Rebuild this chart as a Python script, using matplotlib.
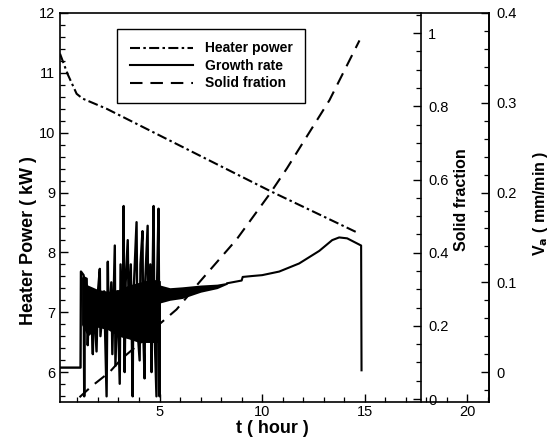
import matplotlib
matplotlib.use("Agg")
import matplotlib.pyplot as plt
from matplotlib.lines import Line2D
from matplotlib.ticker import MultipleLocator, FixedLocator, FuncFormatter

plt.rcParams['font.family'] = ['Liberation Sans', 'DejaVu Sans']

# ---------------- data ----------------
# heater power (kW) vs time (hour)
heater_t = [0.15, 0.52, 0.96, 1.25, 2.42, 10.36, 14.7]
heater_p = [11.32, 10.98, 10.65, 10.57, 10.4, 9.03, 8.32]

# solid fraction vs time
sf_t = [1.1, 1.69, 2.57, 3.15, 4.2, 5.0, 5.83, 6.95, 8.75, 10.36, 11.2, 12.2, 13.28, 14.74]
sf_v = [0.005, 0.035, 0.074, 0.11, 0.16, 0.205, 0.245, 0.32, 0.436, 0.56, 0.63, 0.72, 0.817, 0.98]

# growth rate (mm/min): flat start + spiky unstable part up to t = 5 h
noise_t = [0.15, 1.15, 1.17, 1.3, 1.33, 1.36, 1.45, 1.5, 1.55, 1.7, 1.75, 1.8, 1.93, 2.0,
           2.09, 2.12, 2.3, 2.42, 2.45, 2.48, 2.52, 2.65, 2.7, 2.82, 2.85, 2.95, 3.06,
           3.1, 3.2, 3.25, 3.28, 3.3, 3.35, 3.45, 3.5, 3.6, 3.69, 3.72, 3.88, 3.92,
           4.03, 4.07, 4.17, 4.2, 4.27, 4.3, 4.42, 4.45, 4.55, 4.61, 4.65, 4.71, 4.75,
           4.85, 4.88, 4.95, 4.98, 5.0, 5.0]
noise_v = [0.005, 0.005, 0.112, 0.108, -0.027, 0.105, 0.104, 0.03, 0.07, 0.05, 0.02, 0.08,
           0.023, 0.09, 0.115, 0.04, 0.09, -0.027, 0.06, 0.123, 0.05, 0.1, 0.02, 0.141,
           0.007, 0.09, -0.013, 0.12, 0.04, 0.185, 0.05, 0.0, 0.1, 0.147, 0.06, 0.12,
           -0.027, 0.08, 0.167, 0.05, 0.013, 0.12, 0.157, 0.05, -0.007, 0.1, 0.163, 0.04,
           0.12, 0.0, 0.09, 0.185, 0.05, -0.027, 0.1, 0.182, 0.06, -0.027, 0.1]

# dense oscillation band of the growth rate (envelope)
band_t = [1.2, 1.5, 2.0, 2.5, 3.0, 3.5, 4.0, 4.5, 4.98, 5.02, 5.5, 6.1, 7.0, 7.8, 8.3]
band_lo = [0.053, 0.04, 0.05, 0.047, 0.04, 0.037, 0.033, 0.033, 0.033, 0.077, 0.08,
           0.082, 0.089, 0.093, 0.098]
band_hi = [0.107, 0.097, 0.092, 0.09, 0.092, 0.097, 0.1, 0.103, 0.103, 0.097, 0.094,
           0.095, 0.097, 0.098, 0.1]

# smooth growth rate after t = 8.3 h
gr_t = [8.3, 9.0, 9.05, 9.5, 10.0, 10.83, 11.8, 12.78, 13.41, 13.75, 14.14, 14.82, 14.84]
gr_v = [0.099, 0.102, 0.106, 0.107, 0.108, 0.112, 0.121, 0.135, 0.147, 0.15, 0.149,
        0.141, 0.002]

# ---------------- figure ----------------
fig = plt.figure(figsize=(5.49, 4.44), dpi=100)
ax = fig.add_axes([60 / 549, 42 / 444, 429 / 549, 389 / 444])
ax2 = ax.twinx()
ax3 = ax.twinx()

dashdot = (0, (4.8, 1.6, 1.2, 1.6))
dashed = (0, (6.0, 3.8))

ax.plot(heater_t, heater_p, color='black', lw=1.5, linestyle=dashdot)
ax3.plot(sf_t, sf_v, color='black', lw=1.5, linestyle=dashed)
ax2.fill_between(band_t, band_lo, band_hi, color='black', lw=0)
ax2.plot(noise_t, noise_v, color='black', lw=1.7)
ax2.plot(gr_t, gr_v, color='black', lw=1.5)

ax.set_xlim(0.15, 21.05)
ax.set_ylim(5.5, 12)
ax2.set_ylim(-0.0333, 0.4)
ax3.set_ylim(-0.008, 1.055)

ax.xaxis.set_major_locator(FixedLocator([5, 10, 15, 20]))
ax.xaxis.set_minor_locator(MultipleLocator(1))
ax.yaxis.set_major_locator(MultipleLocator(1))
ax.yaxis.set_minor_locator(MultipleLocator(0.2))
ax2.yaxis.set_major_locator(MultipleLocator(0.1))
ax2.yaxis.set_minor_locator(MultipleLocator(0.02))
ax3.yaxis.set_major_locator(FixedLocator([0, 0.2, 0.4, 0.6, 0.8, 1.0]))
ax3.yaxis.set_minor_locator(MultipleLocator(0.05))
ax2.yaxis.set_major_formatter(FuncFormatter(lambda v, p: '0' if abs(v) < 1e-9 else f'{v:.1f}'))
ax3.yaxis.set_major_formatter(FuncFormatter(
    lambda v, p: '0' if abs(v) < 1e-9 else ('1' if abs(v - 1) < 1e-9 else f'{v:.1f}')))

for a in (ax, ax2, ax3):
    a.tick_params(which='major', direction='in', length=6, width=1.0, labelsize=10.5)
    a.tick_params(which='minor', direction='in', length=3.5, width=0.9)
    for s in a.spines.values():
        s.set_linewidth(1.2)
ax.tick_params(axis='x', pad=2)
ax.tick_params(axis='y', right=False)
ax.tick_params(axis='y', which='minor', right=False)

ax3.spines['right'].set_position(('axes', (421 - 60) / 429))
for s in ('left', 'top', 'bottom'):
    ax3.spines[s].set_visible(False)
    ax2.spines[s].set_visible(False)
ax3.tick_params(axis='y', pad=5)
ax2.tick_params(axis='y', pad=5)

# axis titles placed at the pixel spots of the original
fig.text(272 / 549, 1 - 428 / 444, 't ( hour )', fontsize=13, fontweight='bold',
         ha='center', va='center')
fig.text(29 / 549, 1 - 241 / 444, 'Heater Power ( kW )', fontsize=13, fontweight='bold',
         ha='center', va='center', rotation=90)
fig.text(462 / 549, 1 - 200 / 444, 'Solid fraction', fontsize=11.5, fontweight='bold',
         ha='center', va='center', rotation=90)
fig.text(541 / 549, 1 - 203 / 444, r'V$_{\mathbf{a}}$ ( mm/min )', fontsize=11.5,
         fontweight='bold', ha='center', va='center', rotation=90)

handles = [
    Line2D([], [], color='black', lw=1.5, linestyle=dashdot),
    Line2D([], [], color='black', lw=1.5),
    Line2D([], [], color='black', lw=1.5, linestyle=dashed),
]
leg = ax.legend(handles, ['Heater power', 'Growth rate', 'Solid fration'],
                loc='upper left', bbox_to_anchor=(0.133, 0.959), borderaxespad=0,
                frameon=True, fancybox=False, edgecolor='black', framealpha=1,
                prop={'weight': 'bold', 'size': 10}, handlelength=4.6,
                handletextpad=0.8, labelspacing=0.25, borderpad=0.9)
leg.get_frame().set_linewidth(1.0)

fig.savefig('out.png', dpi=100)
